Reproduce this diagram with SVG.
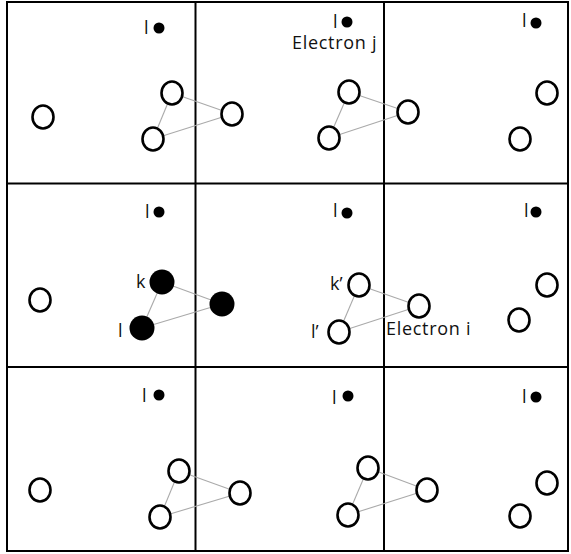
<svg xmlns="http://www.w3.org/2000/svg" width="571" height="554" viewBox="0 0 571 554">
<style>
.grid{fill:none;stroke:#000;stroke-width:2}
.e{fill:#fff;stroke:#000;stroke-width:2.6}
.f{fill:#000}
.c line{stroke:#aaa;stroke-width:1.1}
text{font-family:"Open Sans",Lato,"Liberation Sans",sans-serif;font-size:18px;fill:#111}
.lb{letter-spacing:0.7px}
</style>
<rect width="571" height="554" fill="#fff"/>
<g id="grid">
<rect class="grid" x="7" y="2" width="561" height="549"/>
<line class="grid" x1="195.5" y1="2" x2="195.5" y2="551"/>
<line class="grid" x1="384" y1="2" x2="384" y2="551"/>
<line class="grid" x1="7" y1="183.5" x2="568" y2="183.5"/>
<line class="grid" x1="7" y1="367" x2="568" y2="367"/>
</g>
<g id="connectors" class="c">
<line x1="172" y1="93" x2="232" y2="114"/><line x1="153" y1="139" x2="232" y2="114"/><line x1="172" y1="93" x2="153" y2="139"/>
<line x1="349" y1="92" x2="408" y2="112"/><line x1="329" y1="138" x2="408" y2="112"/><line x1="349" y1="92" x2="329" y2="138"/>
<line x1="162" y1="282" x2="222" y2="304"/><line x1="142" y1="328" x2="222" y2="304"/><line x1="162" y1="282" x2="142" y2="328"/>
<line x1="359" y1="285" x2="419" y2="306"/><line x1="339" y1="332" x2="419" y2="306"/><line x1="359" y1="285" x2="339" y2="332"/>
<line x1="179" y1="471" x2="240" y2="493"/><line x1="160" y1="517" x2="240" y2="493"/><line x1="179" y1="471" x2="160" y2="517"/>
<line x1="368" y1="468" x2="427" y2="490"/><line x1="348" y1="515" x2="427" y2="490"/><line x1="368" y1="468" x2="348" y2="515"/>
</g>
<g id="cell1">
<ellipse class="e" cx="43" cy="117" rx="10.5" ry="11.5"/>
<ellipse class="e" cx="172" cy="93" rx="10.5" ry="11.5"/>
<ellipse class="e" cx="153" cy="139" rx="10.5" ry="11.5"/>
<circle class="f" cx="159" cy="28" r="5.5"/>
<text x="144" y="34">l</text>
</g>
<g id="cell2">
<ellipse class="e" cx="232" cy="114" rx="10.5" ry="11.5"/>
<ellipse class="e" cx="349" cy="92" rx="10.5" ry="11.5"/>
<ellipse class="e" cx="329" cy="138" rx="10.5" ry="11.5"/>
<circle class="f" cx="347" cy="22" r="5.5"/>
<text x="333" y="28">l</text>
<text class="lb" x="292" y="49">Electron j</text>
</g>
<g id="cell3">
<ellipse class="e" cx="408" cy="112" rx="10.5" ry="11.5"/>
<ellipse class="e" cx="547" cy="93" rx="10.5" ry="11.5"/>
<ellipse class="e" cx="520" cy="139" rx="10.5" ry="11.5"/>
<circle class="f" cx="536" cy="23" r="5.5"/>
<text x="522" y="27">l</text>
</g>
<g id="cell4">
<ellipse class="e" cx="40" cy="300" rx="10.5" ry="11.5"/>
<circle class="f" cx="162" cy="282" r="12.5"/>
<circle class="f" cx="142" cy="328" r="12.5"/>
<circle class="f" cx="159" cy="212" r="5.5"/>
<text x="145" y="218">l</text>
<text x="136" y="288">k</text>
<text x="118" y="337">l</text>
</g>
<g id="cell5">
<circle class="f" cx="222" cy="304" r="12.5"/>
<ellipse class="e" cx="359" cy="285" rx="10.5" ry="11.5"/>
<ellipse class="e" cx="339" cy="332" rx="10.5" ry="11.5"/>
<circle class="f" cx="347" cy="213" r="5.5"/>
<text x="333" y="217">l</text>
<text x="330" y="290">k’</text>
<text x="311" y="338">l’</text>
</g>
<g id="cell6">
<ellipse class="e" cx="419" cy="306" rx="10.5" ry="11.5"/>
<ellipse class="e" cx="547" cy="285" rx="10.5" ry="11.5"/>
<ellipse class="e" cx="519" cy="320" rx="10.5" ry="11.5"/>
<circle class="f" cx="536" cy="212" r="5.5"/>
<text x="524" y="217">l</text>
<text class="lb" x="386" y="335">Electron i</text>
</g>
<g id="cell7">
<ellipse class="e" cx="40" cy="490" rx="10.5" ry="11.5"/>
<ellipse class="e" cx="179" cy="471" rx="10.5" ry="11.5"/>
<ellipse class="e" cx="160" cy="517" rx="10.5" ry="11.5"/>
<circle class="f" cx="159" cy="395" r="5.5"/>
<text x="142" y="402">l</text>
</g>
<g id="cell8">
<ellipse class="e" cx="240" cy="493" rx="10.5" ry="11.5"/>
<ellipse class="e" cx="368" cy="468" rx="10.5" ry="11.5"/>
<ellipse class="e" cx="348" cy="515" rx="10.5" ry="11.5"/>
<circle class="f" cx="348" cy="396" r="5.5"/>
<text x="332" y="404">l</text>
</g>
<g id="cell9">
<ellipse class="e" cx="427" cy="490" rx="10.5" ry="11.5"/>
<ellipse class="e" cx="547" cy="483" rx="10.5" ry="11.5"/>
<ellipse class="e" cx="520" cy="516" rx="10.5" ry="11.5"/>
<circle class="f" cx="536" cy="397" r="5.5"/>
<text x="522" y="403">l</text>
</g>
</svg>
